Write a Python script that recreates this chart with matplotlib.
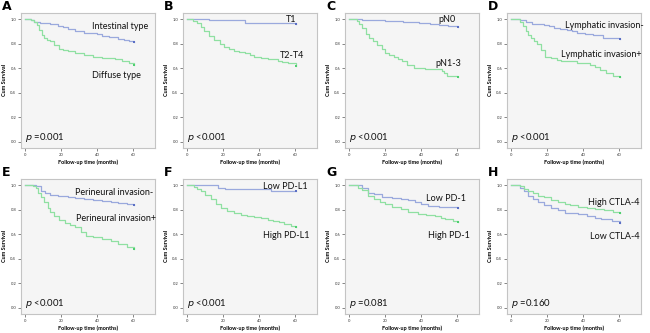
import matplotlib
matplotlib.use("Agg")
import matplotlib.pyplot as plt

plt.rcParams['font.family'] = ['Lato', 'DejaVu Sans']

panel_letters = ["A", "B", "C", "D", "E", "F", "G", "H"]
p_texts = ["=0.001", "<0.001", "<0.001", "<0.001", "<0.001", "<0.001", "=0.081", "=0.160"]

# Group 1 (blue) and group 2 (green) Kaplan-Meier step data: times and survival
blue_labels = ["Intestinal type", "T1", "pN0", "Lymphatic invasion-",
               "Perineural invasion-", "Low PD-L1", "Low PD-1", "Low CTLA-4"]
green_labels = ["Diffuse type", "T2-T4", "pN1-3", "Lymphatic invasion+",
                "Perineural invasion+", "High PD-L1", "High PD-1", "High CTLA-4"]

blue_t = [
    [0, 3, 5, 8, 11, 14, 18, 21, 24, 28, 33, 37, 40, 43, 47, 52, 55, 58, 61],
    [0, 12, 32, 61],
    [0, 7, 20, 30, 38.7, 45, 50, 55, 61],
    [0, 5, 8, 11.6, 18, 21, 23.6, 27, 31, 34, 36.5, 41, 45.8, 51, 55, 61],
    [0, 5.7, 8.6, 11, 14, 18, 24, 28, 33, 38, 43, 48, 52, 57, 61],
    [0, 17, 21, 33, 46.5, 61],
    [0, 7, 10.6, 14, 18, 24, 29, 33, 36.7, 40, 44, 50, 61],
    [0, 5, 7, 9, 12, 15, 18.4, 22, 26, 30, 33, 37, 42, 46.8, 50, 56, 61],
]
blue_s = [
    [1.0, 0.99, 0.98, 0.97, 0.965, 0.96, 0.945, 0.935, 0.92, 0.905, 0.89, 0.885, 0.875, 0.865, 0.855, 0.84, 0.83, 0.82, 0.81],
    [1.0, 0.99, 0.97, 0.96],
    [1.0, 0.99, 0.985, 0.975, 0.965, 0.96, 0.95, 0.94, 0.935],
    [1.0, 0.99, 0.975, 0.96, 0.955, 0.945, 0.93, 0.92, 0.91, 0.9, 0.89, 0.88, 0.87, 0.85, 0.845, 0.84],
    [1.0, 0.99, 0.95, 0.935, 0.92, 0.91, 0.9, 0.895, 0.885, 0.875, 0.87, 0.86, 0.855, 0.845, 0.84],
    [1.0, 0.98, 0.97, 0.965, 0.95, 0.95],
    [1.0, 0.975, 0.94, 0.93, 0.905, 0.895, 0.885, 0.875, 0.86, 0.845, 0.83, 0.82, 0.81],
    [1.0, 0.98, 0.955, 0.91, 0.89, 0.865, 0.84, 0.815, 0.795, 0.775, 0.77, 0.765, 0.75, 0.735, 0.725, 0.71, 0.69],
]
green_t = [
    [0, 3, 5, 6.5, 7.6, 9, 10.5, 12, 14, 16, 19, 21, 24, 28, 33, 38, 43, 50, 54, 58, 61],
    [0, 3, 5.6, 7.5, 9.4, 12, 15, 18, 20.6, 23, 26, 29, 32, 35, 37.5, 41, 45, 50.6, 53, 56, 61],
    [0, 4.3, 5.5, 7, 9, 10.8, 13, 15.4, 18, 20, 22, 24.7, 27, 29.4, 32, 36, 42, 48, 51.7, 53, 54.5, 61],
    [0, 5, 6.5, 8, 9.5, 10.7, 12.5, 14.4, 16.5, 19, 22, 25.5, 28, 31, 36.5, 44, 47, 49.5, 53, 57, 61],
    [0, 4, 5.7, 7, 8.6, 10.5, 12.4, 14, 16, 19, 22, 25, 27.6, 31, 34, 38, 43, 48, 52, 57, 61],
    [0, 3.7, 5.5, 7.4, 10, 13, 16, 18.6, 22, 26, 30, 33.4, 37, 41, 45, 48, 51, 54, 58, 61],
    [0, 5, 7, 10.6, 14, 17, 20, 24, 29, 33, 38.6, 43, 48, 51, 53.5, 58, 61],
    [0, 5, 7, 9, 12, 15, 18.4, 22, 26, 30, 33, 37, 42, 46.8, 52, 57, 61],
]
green_s = [
    [1.0, 0.99, 0.98, 0.95, 0.91, 0.87, 0.845, 0.83, 0.82, 0.79, 0.76, 0.75, 0.74, 0.72, 0.71, 0.69, 0.68, 0.675, 0.655, 0.64, 0.63],
    [1.0, 0.985, 0.965, 0.935, 0.9, 0.865, 0.83, 0.8, 0.77, 0.755, 0.74, 0.73, 0.72, 0.705, 0.69, 0.68, 0.675, 0.66, 0.65, 0.64, 0.615],
    [1.0, 0.985, 0.96, 0.925, 0.88, 0.845, 0.82, 0.79, 0.755, 0.72, 0.705, 0.69, 0.675, 0.655, 0.63, 0.6, 0.596, 0.594, 0.575, 0.56, 0.54, 0.53],
    [1.0, 0.98, 0.94, 0.9, 0.87, 0.845, 0.82, 0.8, 0.75, 0.695, 0.68, 0.67, 0.66, 0.655, 0.64, 0.63, 0.61, 0.585, 0.56, 0.54, 0.525],
    [1.0, 0.99, 0.98, 0.94, 0.9, 0.86, 0.815, 0.785, 0.75, 0.72, 0.695, 0.675, 0.655, 0.62, 0.585, 0.575, 0.565, 0.545, 0.52, 0.5, 0.48],
    [1.0, 0.985, 0.97, 0.95, 0.92, 0.885, 0.85, 0.815, 0.79, 0.775, 0.76, 0.75, 0.74, 0.73, 0.72, 0.71, 0.7, 0.685, 0.67, 0.655],
    [1.0, 0.98, 0.96, 0.915, 0.89, 0.865, 0.845, 0.825, 0.805, 0.785, 0.765, 0.755, 0.745, 0.735, 0.725, 0.71, 0.70],
    [1.0, 0.99, 0.97, 0.95, 0.935, 0.915, 0.9, 0.88, 0.86, 0.845, 0.835, 0.82, 0.81, 0.805, 0.795, 0.785, 0.775],
]

# text annotation anchors (data coords): blue label, green label
blue_txt = [(37, 0.94), (55, 1.0), (50, 1.0), (30, 0.95), (28, 0.94), (42, 0.99), (43, 0.89), (44, 0.58)]
green_txt = [(37, 0.54), (51.6, 0.70), (48, 0.64), (28, 0.71), (28.5, 0.73), (42, 0.59), (44, 0.59), (43, 0.855)]

x_ticks = [0, 20, 40, 60]
y_ticks = [0.0, 0.2, 0.4, 0.6, 0.8, 1.0]

W, H = 650, 333
fig = plt.figure(figsize=(W / 100, H / 100), dpi=100)
fig.patch.set_facecolor("white")

lefts = [21, 183, 345, 507]
tops = [13, 179]
aw, ah = 134, 135

BLUE = "#9aa9dd"
GREEN = "#8fe0a2"
BLUE_M = "#5b6fc4"
GREEN_M = "#4fcf70"

for i in range(8):
    r, c = divmod(i, 4)
    l = lefts[c]
    t = tops[r]
    ax = fig.add_axes([l / W, 1 - (t + ah) / H, aw / W, ah / H])
    ax.set_facecolor("#f5f5f5")
    for sp in ax.spines.values():
        sp.set_color("#c4c4c4")
        sp.set_linewidth(0.8)
    ax.step(blue_t[i], blue_s[i], where="post", color=BLUE, lw=0.9)
    ax.step(green_t[i], green_s[i], where="post", color=GREEN, lw=0.9)
    ax.plot(blue_t[i][-1], blue_s[i][-1], "s", color=BLUE_M, ms=1.8, mew=0)
    ax.plot(green_t[i][-1], green_s[i][-1], "s", color=GREEN_M, ms=1.8, mew=0)
    ax.set_xlim(-2.5, 72.5)
    ax.set_ylim(-0.05, 1.05)
    ax.set_xticks(x_ticks)
    ax.set_yticks(y_ticks)
    ax.set_xticklabels([str(v) for v in x_ticks], fontsize=3, color="#333333")
    ax.set_yticklabels([f"{v:.1f}" for v in y_ticks], fontsize=3, color="#333333")
    ax.tick_params(length=2, width=0.5, color="#555555", pad=1.5)
    ax.set_xlabel("Follow-up time (months)", fontsize=4, fontweight="bold", labelpad=2)
    ax.set_ylabel("Cum Survival", fontsize=4, fontweight="bold", labelpad=2)
    bx, by = blue_txt[i]
    gx, gy = green_txt[i]
    ax.text(bx, by, blue_labels[i], fontsize=6.5, va="center", ha="left", color="#111111")
    ax.text(gx, gy, green_labels[i], fontsize=6.5, va="center", ha="left", color="#111111")
    ax.text(0.03, 0.03, r"$p$ " + p_texts[i], transform=ax.transAxes, fontsize=6.8,
            va="bottom", ha="left", color="#111111")
    fig.text((l - 19) / W, 1 - (t - 6) / H, panel_letters[i], fontsize=9,
             fontweight="bold", va="center", ha="left", family="DejaVu Sans")

fig.savefig("out.png", dpi=100)
